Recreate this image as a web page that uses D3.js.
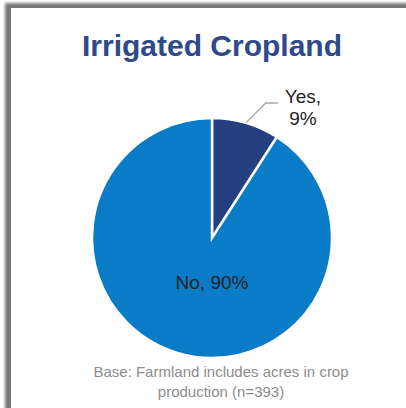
<!DOCTYPE html>
<html>
<head>
<meta charset="utf-8">
<script src="https://cdn.jsdelivr.net/npm/d3@7"></script>
<style>
  html, body { margin:0; padding:0; background:#fff; }
  svg { display:block; font-family:"Liberation Sans", Arial, sans-serif; }
</style>
</head>
<body>
<div id="chart"></div>
<script>
var categories = ["Yes", "No"];
var values = [9, 90];
var colors = ["#263f80", "#0a7bc6"];
var title = "Irrigated Cropland";
var baseNote = ["Base: Farmland includes acres in crop", "production (n=393)"];

var W = 406, H = 408;
var svg = d3.select("#chart").append("svg")
  .attr("width", W).attr("height", H);

// panel shadow + white card
var defs = svg.append("defs");
defs.append("filter").attr("id", "blur")
  .append("feGaussianBlur").attr("stdDeviation", 1.6);
svg.append("rect").attr("x", 5).attr("y", 3).attr("width", W + 20).attr("height", H + 20)
  .attr("fill", "#777").attr("filter", "url(#blur)");
svg.append("rect").attr("x", 11).attr("y", 8).attr("width", W + 20).attr("height", H + 20)
  .attr("fill", "#fff");

svg.append("text")
  .attr("x", 212).attr("y", 56)
  .attr("text-anchor", "middle")
  .attr("font-size", 30).attr("font-weight", "bold")
  .attr("fill", "#2d4a8a")
  .text(title);

var cx = 212, cy = 238, r = 120;
var pie = d3.pie().sort(null).value(function(d){ return d.v; });
var arcs = pie(categories.map(function(c, i){ return {c:c, v:values[i], col:colors[i]}; }));
var arc = d3.arc().innerRadius(0).outerRadius(r);

var g = svg.append("g").attr("transform", "translate(" + cx + "," + cy + ")");
g.selectAll("path").data(arcs).enter().append("path")
  .attr("d", arc)
  .attr("fill", function(d){ return d.data.col; })
  .attr("stroke", "#fff").attr("stroke-width", 2.5);

// Yes label with leader line
var yes = arcs[0];
var mid = (yes.startAngle + yes.endAngle) / 2;
var p0 = [Math.sin(mid) * r * 1.0, -Math.cos(mid) * r * 1.0];
var p1 = [p0[0] + 20, -135];
g.append("polyline")
  .attr("points", [p0, p1, [p1[0] + 12, p1[1]]].map(function(p){ return p.join(","); }).join(" "))
  .attr("fill", "none").attr("stroke", "#a6a6a6").attr("stroke-width", 1.3);
var yt = g.append("text").attr("text-anchor", "middle").attr("font-size", 19).attr("fill", "#222");
yt.append("tspan").attr("x", 91).attr("y", -135).text(yes.data.c + ",");
yt.append("tspan").attr("x", 91).attr("y", -113).text(yes.data.v + "%");

var no = arcs[1];
g.append("text").attr("text-anchor", "middle").attr("font-size", 19).attr("fill", "#222")
  .attr("x", 0).attr("y", 51)
  .text(no.data.c + ", " + no.data.v + "%");

var note = svg.append("text").attr("text-anchor", "middle").attr("font-size", 15).attr("fill", "#8c8c8c");
baseNote.forEach(function(s, i){
  note.append("tspan").attr("x", 221).attr("y", 377 + i * 20).text(s);
});
</script>
</body>
</html>
